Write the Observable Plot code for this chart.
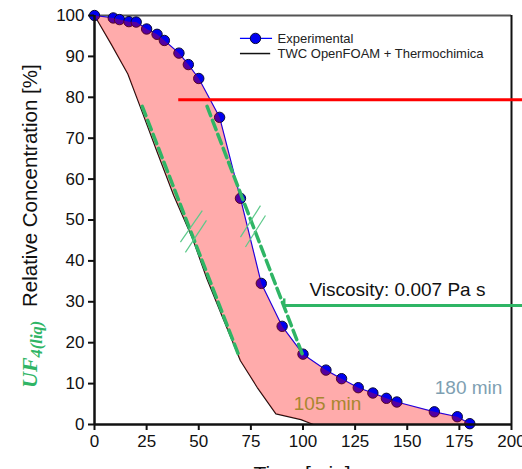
<!DOCTYPE html>
<html>
<head>
<meta charset="utf-8">
<script src="https://cdn.jsdelivr.net/npm/d3@7"></script>
<script src="https://cdn.jsdelivr.net/npm/@observablehq/plot@0.6"></script>
<style>
  html, body { margin: 0; padding: 0; background: #fff; }
</style>
</head>
<body>
<div id="chart"></div>
<script>
// Experimental data (blue markers)
const expTime = [0, 9, 12, 16.5, 20, 25, 30, 33.5, 40.5, 45, 50, 60, 70, 80, 90, 100, 111, 118.5, 126.5, 133.5, 140, 145, 163, 174, 180];
const expConc = [100, 99.4, 99.0, 98.5, 98.4, 96.7, 95.4, 93.9, 90.8, 88.0, 84.6, 75.1, 55.3, 34.5, 24.0, 17.2, 13.3, 11.2, 9.0, 7.7, 6.4, 5.5, 3.1, 1.9, 0.2];

// TWC OpenFOAM + Thermochimica simulation (black line)
const simTime = [0, 8, 16, 22, 30, 38, 47, 54, 62, 70, 78, 87, 99, 105];
const simConc = [100, 93, 85.7, 77.6, 66.7, 56, 45.5, 35.5, 25.5, 15.6, 9.1, 2.6, 1.2, 0];

// Green dashed guide lines (slopes)
const dashLeftTime = [22.9, 69.2];
const dashLeftConc = [77.8, 16.9];
const dashRightTime = [54, 99.6];
const dashRightConc = [77.8, 17.3];

// Parallel hatch marks on the dashed guides
const hatchX1 = [41.2, 43.6, 70.0, 72.4];
const hatchY1 = [44.6, 42.1, 45.8, 43.4];
const hatchX2 = [51.7, 53.7, 79.6, 82.0];
const hatchY2 = [52.3, 49.9, 53.5, 51.1];

// Horizontal annotation lines
const redLineTime = [40.4, 206];
const redLineConc = 79.4;
const viscLineTime = [91, 206];
const viscLineConc = 29.1;
const viscCapConc = [28.3, 30.7];

// Annotation texts
const annoText = ["Viscosity: 0.007 Pa s", "105 min", "180 min"];
const annoX = [145.3, 111.8, 179.4];
const annoY = [32.8, 5.1, 9.0];
const annoColor = ["#111111", "#a8862f", "#7e9fb2"];

// Legend
const legendLabels = ["Experimental", "TWC OpenFOAM + Thermochimica"];
const legendY = [94.4, 90.7];

// Ticks
const xTicks = [0, 25, 50, 75, 100, 125, 150, 175, 200];
const yTicks = [0, 10, 20, 30, 40, 50, 60, 70, 80, 90, 100];

const expData = expTime.map((t, i) => ({x: t, y: expConc[i]}));
const simData = simTime.map((t, i) => ({x: t, y: simConc[i]}));
const polygon = [
  ...expData,
  {x: expTime[expTime.length - 1], y: 0},
  ...simData.slice().reverse()
];
const dashL = dashLeftTime.map((t, i) => ({x: t, y: dashLeftConc[i]}));
const dashR = dashRightTime.map((t, i) => ({x: t, y: dashRightConc[i]}));
const hatches = hatchX1.map((v, i) => ({x1: v, y1: hatchY1[i], x2: hatchX2[i], y2: hatchY2[i]}));
const annos = annoText.map((s, i) => ({s, x: annoX[i], y: annoY[i], c: annoColor[i]}));

const green = "#2fb565";

const chart = Plot.plot({
  width: 522,
  height: 469,
  marginLeft: 94,
  marginRight: 11,
  marginTop: 15,
  marginBottom: 45,
  style: {fontFamily: "'Liberation Sans', Arial, sans-serif", fontSize: "17px", color: "#111", background: "#fff"},
  x: {domain: [0, 200]},
  y: {domain: [0, 100]},
  marks: [
    // frame: top & right borders
    Plot.ruleY([100], {x1: 0, x2: 200, stroke: "#555", strokeWidth: 2}),
    Plot.ruleX([200], {y1: 0, y2: 100, stroke: "#111", strokeWidth: 2}),
    // simulation line
    Plot.line(simData, {x: "x", y: "y", stroke: "#111", strokeWidth: 1.2}),
    // experimental line + markers
    Plot.line(expData, {x: "x", y: "y", stroke: "#0000ff", strokeWidth: 1.2}),
    Plot.dot(expData, {x: "x", y: "y", r: 5.2, fill: "#0000f0", stroke: "#0a0a35", strokeWidth: 1}),
    // shaded band between curves
    Plot.line(polygon, {x: "x", y: "y", fill: "#ff0000", fillOpacity: 0.33, stroke: "none"}),
    // green dashed guides
    Plot.line(dashL, {x: "x", y: "y", stroke: green, strokeWidth: 3.5, strokeDasharray: "10,5"}),
    Plot.line(dashR, {x: "x", y: "y", stroke: green, strokeWidth: 3.5, strokeDasharray: "10,5"}),
    Plot.link(hatches, {x1: "x1", y1: "y1", x2: "x2", y2: "y2", stroke: "#5cc98a", strokeWidth: 1.2}),
    // red line
    Plot.ruleY([redLineConc], {x1: redLineTime[0], x2: redLineTime[1], stroke: "#ff0000", strokeWidth: 3}),
    // viscosity line with cap
    Plot.ruleY([viscLineConc], {x1: viscLineTime[0], x2: viscLineTime[1], stroke: green, strokeWidth: 3}),
    Plot.ruleX([viscLineTime[0]], {y1: viscCapConc[0], y2: viscCapConc[1], stroke: green, strokeWidth: 2.5}),
    // annotation texts
    Plot.text(annos, {x: "x", y: "y", text: "s", fill: "c", fontSize: 19, fontFamily: "'Liberation Sans', Arial, sans-serif"}),
    // legend
    Plot.ruleY([legendY[0]], {x1: 70, x2: 85.4, stroke: "#0000ff", strokeWidth: 1.2}),
    Plot.dot([legendY[0]], {x: 77.2, y: d => d, r: 5.2, fill: "#0000f0", stroke: "#0a0a35", strokeWidth: 1}),
    Plot.ruleY([legendY[1]], {x1: 70, x2: 84.5, stroke: "#111", strokeWidth: 1.5}),
    Plot.text(legendLabels, {x: 87.8, y: (d, i) => legendY[i], text: d => d, textAnchor: "start", fontSize: 13, fill: "#222"}),
    // axes
    Plot.axisX({ticks: xTicks, tickSize: 6, tickPadding: 4, strokeWidth: 2, label: null, fontSize: 17}),
    Plot.axisY({ticks: yTicks, tickSize: 6, tickPadding: 4, strokeWidth: 2, label: null, fontSize: 17}),
    Plot.ruleY([0], {stroke: "#111", strokeWidth: 2.5}),
    Plot.ruleX([0], {stroke: "#111", strokeWidth: 2.5})
  ]
});

document.getElementById("chart").appendChild(chart);

// Axis titles
const svg = d3.select(chart);
const yl = svg.append("text")
  .attr("transform", "translate(37,388) rotate(-90)")
  .attr("text-anchor", "start")
  .attr("fill", green)
  .style("font-family", "'Liberation Serif', 'DejaVu Serif', serif")
  .style("font-weight", "bold")
  .style("font-style", "italic");
yl.append("tspan").attr("font-size", 22).text("UF");
yl.append("tspan").attr("font-size", 16.5).attr("dy", 5).text("4(liq)");

svg.append("text")
  .attr("transform", "translate(37,307) rotate(-90)")
  .attr("text-anchor", "start")
  .attr("fill", "#111")
  .style("font-family", "'Liberation Sans', Arial, sans-serif")
  .style("font-size", "20.5px")
  .text("Relative Concentration [%]");

svg.append("text")
  .attr("x", 302)
  .attr("y", 481)
  .attr("text-anchor", "middle")
  .attr("fill", "#111")
  .style("font-family", "'Liberation Sans', Arial, sans-serif")
  .style("font-size", "21px")
  .text("Time [min]");
</script>
</body>
</html>
